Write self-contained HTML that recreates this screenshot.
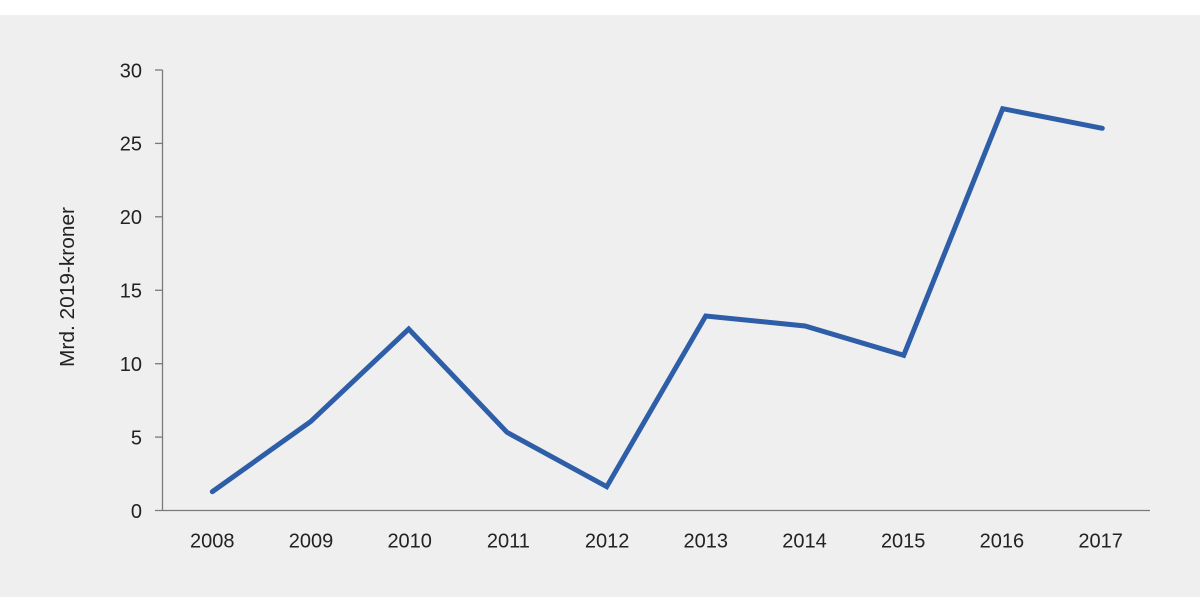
<!DOCTYPE html>
<html>
<head>
<meta charset="utf-8">
<style>
html,body{margin:0;padding:0;background:#ffffff;}
body{width:1200px;height:612px;overflow:hidden;}
svg{display:block;}
text{font-family:"Liberation Sans","DejaVu Sans",sans-serif;fill:#222222;}
</style>
</head>
<body>
<svg width="1200" height="612" viewBox="0 0 1200 612" xmlns="http://www.w3.org/2000/svg">
  <rect x="0" y="0" width="1200" height="612" fill="#ffffff"/>
  <rect x="0" y="15" width="1200" height="582" fill="#efefef"/>

  <!-- axes -->
  <g stroke="#7a7a7a" stroke-width="1.3" fill="none">
    <line x1="162.5" y1="70" x2="162.5" y2="510.5"/>
    <line x1="155" y1="510.5" x2="1150" y2="510.5"/>
    <line x1="155" y1="70" x2="162.5" y2="70"/>
    <line x1="155" y1="143.4" x2="162.5" y2="143.4"/>
    <line x1="155" y1="216.8" x2="162.5" y2="216.8"/>
    <line x1="155" y1="290.3" x2="162.5" y2="290.3"/>
    <line x1="155" y1="363.7" x2="162.5" y2="363.7"/>
    <line x1="155" y1="437.1" x2="162.5" y2="437.1"/>
  </g>

  <!-- y tick labels -->
  <g font-size="20" text-anchor="end">
    <text x="142" y="77.3">30</text>
    <text x="142" y="150.7">25</text>
    <text x="142" y="224.1">20</text>
    <text x="142" y="297.6">15</text>
    <text x="142" y="371">10</text>
    <text x="142" y="444.4">5</text>
    <text x="142" y="517.8">0</text>
  </g>

  <!-- y axis title -->
  <text font-size="20" text-anchor="middle" textLength="160" lengthAdjust="spacingAndGlyphs" transform="translate(74,287) rotate(-90)">Mrd. 2019-kroner</text>

  <!-- x tick labels -->
  <g font-size="20" text-anchor="middle">
    <text x="212.3" y="547.3">2008</text>
    <text x="311" y="547.3">2009</text>
    <text x="409.7" y="547.3">2010</text>
    <text x="508.4" y="547.3">2011</text>
    <text x="607.1" y="547.3">2012</text>
    <text x="705.8" y="547.3">2013</text>
    <text x="804.5" y="547.3">2014</text>
    <text x="903.2" y="547.3">2015</text>
    <text x="1001.9" y="547.3">2016</text>
    <text x="1100.6" y="547.3">2017</text>
  </g>

  <!-- series -->
  <polyline fill="none" stroke="#2e5ea8" stroke-width="5" stroke-linejoin="miter" stroke-linecap="round"
    points="212.3,491.7 310.5,421.7 408.7,329 507,432.3 606.7,486.7 705.7,316 805,326 903.7,355.3 1002.7,108.7 1102.3,128.3"/>
</svg>
</body>
</html>
